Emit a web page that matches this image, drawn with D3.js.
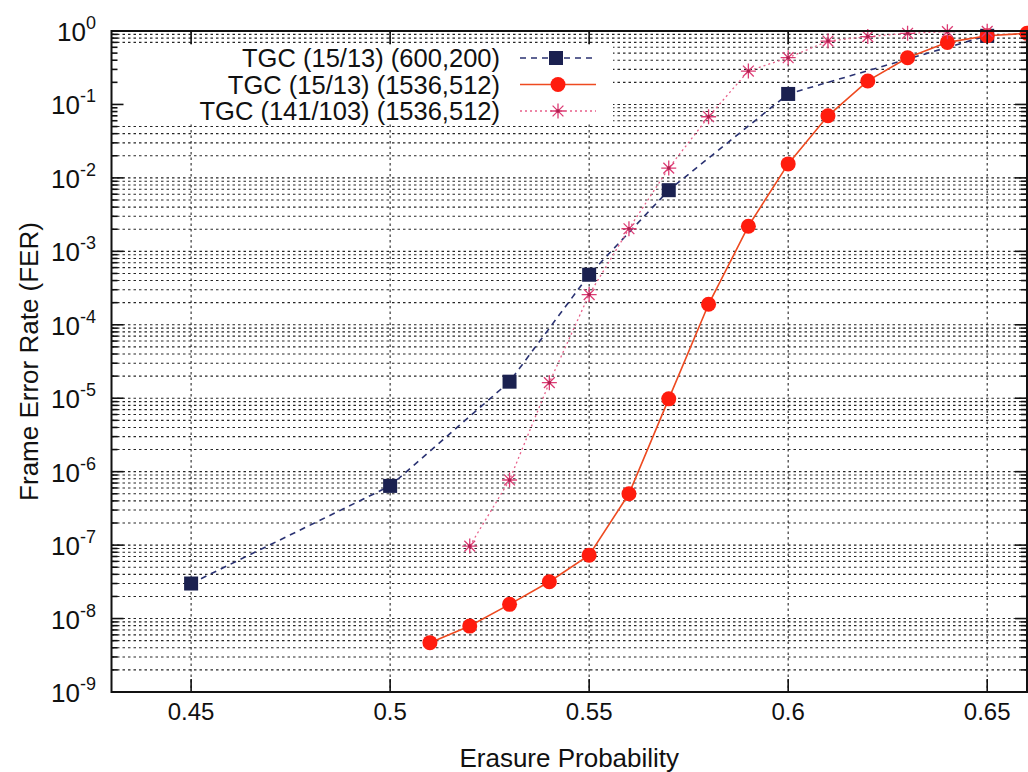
<!DOCTYPE html>
<html>
<head>
<meta charset="utf-8">
<script src="https://cdn.jsdelivr.net/npm/d3@7"></script>
<style>
  html, body { margin: 0; padding: 0; background: #fff; }
  svg { display: block; }
  text { font-family: "Liberation Sans", Arial, sans-serif; fill: #111; }
</style>
</head>
<body>
<svg id="chart" width="1028" height="772"></svg>
<script>
// Frame error rate versus erasure probability for three TGC codes

const seriesNames = [
  "TGC (15/13) (600,200)",
  "TGC (15/13) (1536,512)",
  "TGC (141/103) (1536,512)"
];

// TGC (15/13) (600,200)
const tgc600X = [0.45, 0.50, 0.53, 0.55, 0.57, 0.60, 0.65];
const tgc600Y = [3.0e-8, 6.4e-7, 1.68e-5, 4.8e-4, 6.8e-3, 0.139, 0.86];

// TGC (15/13) (1536,512)
const tgc1536X = [0.51, 0.52, 0.53, 0.54, 0.55, 0.56, 0.57, 0.58, 0.59, 0.60, 0.61, 0.62, 0.63, 0.64, 0.65, 0.66];
const tgc1536Y = [4.7e-9, 7.9e-9, 1.56e-8, 3.17e-8, 7.3e-8, 5.0e-7, 9.8e-6, 1.9e-4, 2.2e-3, 0.0155, 0.070, 0.209, 0.433, 0.70, 0.86, 0.93];

// TGC (141/103) (1536,512)
const tgc141X = [0.52, 0.53, 0.54, 0.55, 0.56, 0.57, 0.58, 0.59, 0.60, 0.61, 0.62, 0.63, 0.64, 0.65];
const tgc141Y = [9.7e-8, 7.7e-7, 1.63e-5, 2.58e-4, 2.03e-3, 0.0136, 0.068, 0.285, 0.433, 0.73, 0.84, 0.93, 0.98, 0.99];

const xTicks = [0.45, 0.5, 0.55, 0.6, 0.65];
const xTickLabels = ["0.45", "0.5", "0.55", "0.6", "0.65"];
const yExponents = [0, -1, -2, -3, -4, -5, -6, -7, -8, -9];

const xTitle = "Erasure Probability";
const yTitle = "Frame Error Rate (FER)";

const svg = d3.select("#chart");
const plotLeft = 111.5, plotRight = 1027, plotTop = 31, plotBottom = 692;

const x = d3.scaleLinear().domain([0.43, 0.66]).range([plotLeft, plotRight]);
const y = d3.scaleLog().domain([1e-9, 1]).range([plotBottom, plotTop]);

const gridColor = "#262626";

// Horizontal grid at every major and minor decade step
const yGridVals = [];
for (let e = -9; e < 0; e++) {
  for (let m = 1; m <= 9; m++) yGridVals.push(m * Math.pow(10, e));
}
yGridVals.push(1);

svg.append("g").selectAll("line").data(yGridVals).join("line")
  .attr("x1", plotLeft).attr("x2", plotRight)
  .attr("y1", d => y(d)).attr("y2", d => y(d))
  .attr("stroke", gridColor).attr("stroke-width", 1.1)
  .attr("stroke-dasharray", "2.5,3");

svg.append("g").selectAll("line").data(xTicks).join("line")
  .attr("x1", d => x(d)).attr("x2", d => x(d))
  .attr("y1", plotTop).attr("y2", plotBottom)
  .attr("stroke", gridColor).attr("stroke-width", 1.1)
  .attr("stroke-dasharray", "2.5,3");

// Legend background hides the grid underneath
svg.append("rect")
  .attr("x", plotLeft + 1).attr("y", 45)
  .attr("width", 612 - plotLeft).attr("height", 78)
  .attr("fill", "#fff");

// Series drawing
const navy = "#1b2150";
const red = "#ff1c0e";
const redLine = "#ee4a20";
const pink = "#dc3c74";

const line = d3.line().x(d => x(d[0])).y(d => y(d[1]));
const zipData = (xs, ys) => xs.map((v, i) => [v, ys[i]]);

const d600 = zipData(tgc600X, tgc600Y);
const d1536 = zipData(tgc1536X, tgc1536Y);
const d141 = zipData(tgc141X, tgc141Y);

const clipId = "plotClip";
svg.append("clipPath").attr("id", clipId).append("rect")
  .attr("x", plotLeft).attr("y", plotTop - 10)
  .attr("width", plotRight - plotLeft).attr("height", plotBottom - plotTop + 10);

const lines = svg.append("g").attr("clip-path", `url(#${clipId})`);
lines.append("path").datum(d600).attr("d", line)
  .attr("fill", "none").attr("stroke", "#2a3272").attr("stroke-width", 1.6)
  .attr("stroke-dasharray", "6,5");
lines.append("path").datum(d1536).attr("d", line)
  .attr("fill", "none").attr("stroke", redLine).attr("stroke-width", 1.6);
lines.append("path").datum(d141).attr("d", line)
  .attr("fill", "none").attr("stroke", "#e8608a").attr("stroke-width", 1.3)
  .attr("stroke-dasharray", "2,3");

function drawSquare(g, cx, cy) {
  g.append("rect").attr("x", cx - 7).attr("y", cy - 7)
    .attr("width", 14).attr("height", 14).attr("fill", navy);
}
function drawCircle(g, cx, cy) {
  g.append("circle").attr("cx", cx).attr("cy", cy).attr("r", 7.5).attr("fill", red);
}
function drawStar(g, cx, cy) {
  const s = 7.5, t = s * 0.72;
  const p = `M${cx - s},${cy}L${cx + s},${cy}M${cx},${cy - s}L${cx},${cy + s}` +
            `M${cx - t},${cy - t}L${cx + t},${cy + t}M${cx - t},${cy + t}L${cx + t},${cy - t}`;
  g.append("path").attr("d", p).attr("stroke", pink).attr("stroke-width", 1.3).attr("fill", "none");
  g.append("circle").attr("cx", cx).attr("cy", cy).attr("r", 1.8).attr("fill", "#b02050");
}

const marks = svg.append("g");
d600.forEach(d => drawSquare(marks, x(d[0]), y(d[1])));
d1536.forEach(d => drawCircle(marks, x(d[0]), y(d[1])));
d141.forEach(d => drawStar(marks, x(d[0]), y(d[1])));

// Legend entries
const legendRows = [58, 84.5, 111];
const legend = svg.append("g");
seriesNames.forEach((name, i) => {
  const ry = legendRows[i];
  legend.append("text").attr("x", 500).attr("y", ry + 9)
    .attr("text-anchor", "end").attr("font-size", 25.5).text(name);
});
legend.append("line").attr("x1", 520).attr("x2", 592).attr("y1", legendRows[0]).attr("y2", legendRows[0])
  .attr("stroke", "#2a3272").attr("stroke-width", 1.6).attr("stroke-dasharray", "6,5");
drawSquare(legend, 556, legendRows[0]);
legend.append("line").attr("x1", 520).attr("x2", 596).attr("y1", legendRows[1]).attr("y2", legendRows[1])
  .attr("stroke", redLine).attr("stroke-width", 1.6);
drawCircle(legend, 558, legendRows[1]);
legend.append("line").attr("x1", 520).attr("x2", 596).attr("y1", legendRows[2]).attr("y2", legendRows[2])
  .attr("stroke", "#e8608a").attr("stroke-width", 1.3).attr("stroke-dasharray", "2,3");
drawStar(legend, 558, legendRows[2]);

// Tick marks on all four sides (inward)
const ticks = svg.append("g").attr("stroke", "#111").attr("stroke-width", 1.6);
yGridVals.forEach(v => {
  const major = Math.abs(Math.log10(v) - Math.round(Math.log10(v))) < 1e-9;
  const len = major ? 12 : 6;
  ticks.append("line").attr("x1", plotLeft).attr("x2", plotLeft + len).attr("y1", y(v)).attr("y2", y(v));
  ticks.append("line").attr("x1", plotRight).attr("x2", plotRight - len).attr("y1", y(v)).attr("y2", y(v));
});
xTicks.forEach(v => {
  ticks.append("line").attr("x1", x(v)).attr("x2", x(v)).attr("y1", plotBottom).attr("y2", plotBottom - 13);
  ticks.append("line").attr("x1", x(v)).attr("x2", x(v)).attr("y1", plotTop).attr("y2", plotTop + 13);
});

// Plot frame
svg.append("rect").attr("x", plotLeft).attr("y", plotTop)
  .attr("width", plotRight - plotLeft).attr("height", plotBottom - plotTop)
  .attr("fill", "none").attr("stroke", "#111").attr("stroke-width", 2);

// X tick labels
svg.append("g").selectAll("text").data(xTicks).join("text")
  .attr("x", d => x(d)).attr("y", plotBottom + 28)
  .attr("text-anchor", "middle").attr("font-size", 24)
  .text((d, i) => xTickLabels[i]);

// Y tick labels as powers of ten
const yLab = svg.append("g");
yExponents.forEach(e => {
  const t = yLab.append("text").attr("x", 96).attr("y", y(Math.pow(10, e)) + 10)
    .attr("text-anchor", "end").attr("font-size", 26);
  t.append("tspan").text("10");
  t.append("tspan").attr("font-size", 18).attr("dy", -12).text(e === 0 ? "0" : "-" + Math.abs(e));
});

// Axis titles
svg.append("text").attr("x", (plotLeft + plotRight) / 2).attr("y", 767)
  .attr("text-anchor", "middle").attr("font-size", 26).text(xTitle);
svg.append("text").attr("transform", `translate(38,${(plotTop + plotBottom) / 2}) rotate(-90)`)
  .attr("text-anchor", "middle").attr("font-size", 26).text(yTitle);
</script>
</body>
</html>
